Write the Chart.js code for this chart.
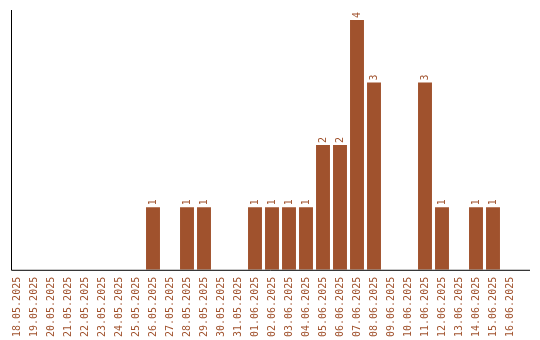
<!DOCTYPE html>
<html>
<head>
<meta charset="utf-8">
<script src="https://cdn.jsdelivr.net/npm/chart.js@4"></script>
<style>
  html, body { margin: 0; padding: 0; background: #fff; }
  #wrap { width: 540px; height: 340px; }
</style>
</head>
<body>
<div id="wrap"><canvas id="bar-chart"></canvas></div>
<script>
var days = ["18.05.2025", "19.05.2025", "20.05.2025", "21.05.2025", "22.05.2025",
  "23.05.2025", "24.05.2025", "25.05.2025", "26.05.2025", "27.05.2025",
  "28.05.2025", "29.05.2025", "30.05.2025", "31.05.2025", "01.06.2025",
  "02.06.2025", "03.06.2025", "04.06.2025", "05.06.2025", "06.06.2025",
  "07.06.2025", "08.06.2025", "09.06.2025", "10.06.2025", "11.06.2025",
  "12.06.2025", "13.06.2025", "14.06.2025", "15.06.2025", "16.06.2025"];
var counts = [0, 0, 0, 0, 0, 0, 0, 0, 1, 0,
  1, 1, 0, 0, 1, 1, 1, 1, 2, 2,
  4, 3, 0, 0, 3, 1, 0, 1, 1, 0];

var brown = "#a0522d";

// value labels on top of the bars, turned like the dates
var valueLabels = {
  id: "valueLabels",
  afterDatasetsDraw: function(chart) {
    var ctx = chart.ctx;
    var meta = chart.getDatasetMeta(0);
    ctx.save();
    ctx.fillStyle = brown;
    ctx.font = "10px 'DejaVu Sans Mono'";
    ctx.textAlign = "left";
    ctx.textBaseline = "middle";
    meta.data.forEach(function(bar, i) {
      if (!counts[i]) return;
      ctx.save();
      ctx.translate(bar.x, bar.y - 2);
      ctx.rotate(-Math.PI / 2);
      ctx.fillText(String(counts[i]), 0, 0);
      ctx.restore();
    });
    ctx.restore();
  }
};

// plain black axis lines
var axisLines = {
  id: "axisLines",
  afterDraw: function(chart) {
    var a = chart.chartArea;
    var ctx = chart.ctx;
    ctx.save();
    ctx.strokeStyle = "#000";
    ctx.lineWidth = 1;
    ctx.beginPath();
    ctx.moveTo(11.5, a.top);
    ctx.lineTo(11.5, a.bottom + 0.5);
    ctx.lineTo(530, a.bottom + 0.5);
    ctx.stroke();
    ctx.restore();
  }
};

var ctx = document.getElementById("bar-chart").getContext("2d");
var chart = new Chart(ctx, {
  type: "bar",
  data: {
    labels: days,
    datasets: [{
      data: counts,
      backgroundColor: brown,
      borderWidth: 0,
      barPercentage: 0.82,
      categoryPercentage: 1
    }]
  },
  options: {
    responsive: true,
    maintainAspectRatio: false,
    animation: false,
    layout: { padding: { left: 8.5, right: 21.5, top: 10, bottom: -4 } },
    plugins: {
      legend: { display: false },
      tooltip: { enabled: false }
    },
    scales: {
      x: {
        grid: { display: false, drawTicks: false },
        border: { display: false },
        ticks: {
          color: brown,
          font: { family: "'DejaVu Sans Mono'", size: 10 },
          minRotation: 90,
          maxRotation: 90,
          autoSkip: false,
          padding: 7
        }
      },
      y: {
        display: false,
        min: 0,
        max: 4.16
      }
    }
  },
  plugins: [valueLabels, axisLines]
});
</script>
</body>
</html>
